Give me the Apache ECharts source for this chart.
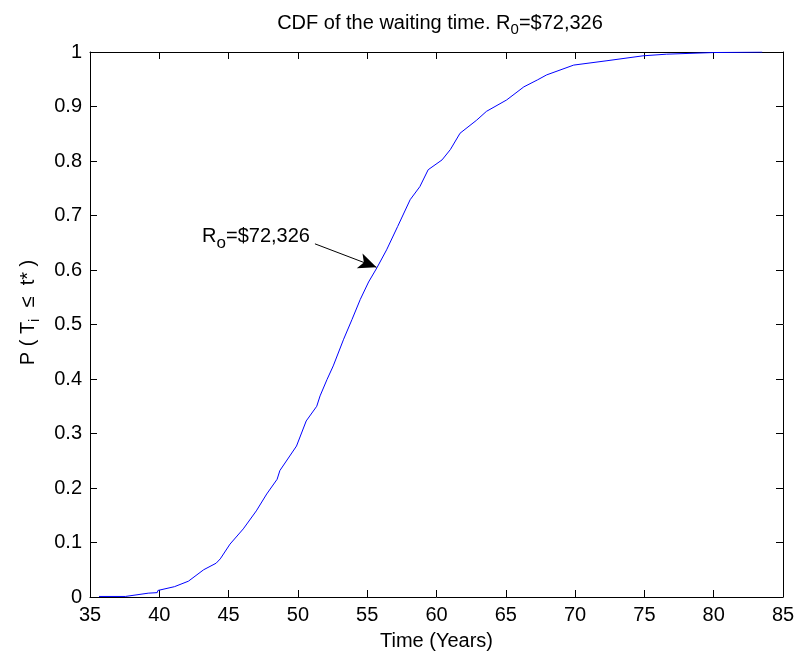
<!DOCTYPE html>
<html>
<head>
<meta charset="utf-8">
<script src="https://cdn.jsdelivr.net/npm/echarts@6/dist/echarts.min.js"></script>
<style>html,body{margin:0;padding:0;background:#fff}#c{width:798px;height:656px}</style>
</head>
<body>
<div id="c"></div>
<script>
// Time (years)
var times = [35.65, 37.55, 37.6, 39.2, 39.85, 39.9, 41.1, 42.1, 43.2, 44.1, 44.4, 45.1, 46.06, 47.0, 47.75, 48.5, 48.7, 49.9, 50.6, 51.36, 51.6, 52.1, 52.55, 53.3, 53.9, 54.5, 55.1, 55.7, 56.4, 57.2, 58.1, 58.8, 59.4, 60.4, 61.0, 61.7, 62.9, 63.6, 65.06, 66.3, 67.3, 67.95, 69.9, 72.3, 74.9, 76.6, 80.0, 83.5];
// CDF values
var cdf = [0.001, 0.001, 0.004, 0.007, 0.008, 0.012, 0.019, 0.029, 0.05, 0.062, 0.07, 0.097, 0.125, 0.158, 0.189, 0.216, 0.232, 0.277, 0.323, 0.350, 0.369, 0.399, 0.424, 0.473, 0.509, 0.546, 0.578, 0.604, 0.637, 0.680, 0.729, 0.753, 0.784, 0.802, 0.821, 0.851, 0.875, 0.891, 0.912, 0.936, 0.949, 0.958, 0.976, 0.984, 0.993, 0.996, 0.999, 1.0];
var xTicks = [35, 40, 45, 50, 55, 60, 65, 70, 75, 80, 85];
var yTicks = [0, 0.1, 0.2, 0.3, 0.4, 0.5, 0.6, 0.7, 0.8, 0.9, 1];
// annotation: arrow from label to curve point
var arrowFrom = [51.23, 0.648];
var arrowTo = [55.67, 0.605];
var labelAt = [46.98, 0.662];

var data = times.map(function (t, i) { return [t, cdf[i]]; });
var FONT = 'Liberation Sans, Arial, Helvetica, sans-serif';
var tickStyle = { show: true, inside: true, length: 7, lineStyle: { color: '#000', width: 1 } };
var lineStyle = { color: '#000', width: 1 };
function richSet(big, small, drop) {
  return {
    a: { fontFamily: FONT, fontSize: big, fontWeight: 'normal', color: '#000', lineHeight: big, verticalAlign: 'top' },
    s: { fontFamily: FONT, fontSize: small, fontWeight: 'normal', color: '#000', lineHeight: small, padding: [drop, 0, 0, 0], verticalAlign: 'top' },
    p: { width: 24, lineHeight: big, verticalAlign: 'top' }
  };
}

var chart = echarts.init(document.getElementById('c'), null, { renderer: 'canvas' });
chart.setOption({
  animation: false,
  backgroundColor: '#fff',
  title: {
    text: '{a|CDF of the waiting time. R}{s|0}{a|=$72,326}',
    left: 435, top: 8, textAlign: 'center',
    textStyle: { fontWeight: 'normal', rich: richSet(20, 15, 9) }
  },
  grid: { left: 90, right: 15, top: 52, bottom: 58 },
  xAxis: [{
    type: 'value', min: 35, max: 85, interval: 5, position: 'bottom',
    axisLine: { show: true, onZero: false, lineStyle: lineStyle },
    axisTick: tickStyle, splitLine: { show: false },
    axisLabel: { color: '#000', fontFamily: FONT, fontSize: 20, margin: 8,
      formatter: function (v) { return xTicks.indexOf(v) >= 0 ? String(v) : ''; } },
    name: 'Time (Years)', nameLocation: 'middle', nameGap: 34,
    nameTextStyle: { color: '#000', fontFamily: FONT, fontSize: 20 }
  }, {
    type: 'value', min: 35, max: 85, interval: 5, position: 'top',
    axisLine: { show: true, onZero: false, lineStyle: lineStyle },
    axisTick: tickStyle, axisLabel: { show: false }, splitLine: { show: false }
  }],
  yAxis: [{
    type: 'value', min: 0, max: 1, interval: 0.1, position: 'left',
    axisLine: { show: true, onZero: false, lineStyle: lineStyle },
    axisTick: tickStyle, splitLine: { show: false },
    axisLabel: { color: '#000', fontFamily: FONT, fontSize: 20, margin: 8,
      formatter: function (v) { var r = Math.round(v * 10) / 10; return yTicks.indexOf(r) >= 0 ? String(r) : ''; } },
    name: '{p|}{a|P ( T}{s|i}{a|  ≤  t* )}', nameLocation: 'middle', nameGap: 52, nameRotate: 90,
    nameTextStyle: { rich: richSet(20, 15, 9) }
  }, {
    type: 'value', min: 0, max: 1, interval: 0.1, position: 'right',
    axisLine: { show: true, onZero: false, lineStyle: lineStyle },
    axisTick: tickStyle, axisLabel: { show: false }, splitLine: { show: false }
  }],
  series: [{
    type: 'line', data: data, xAxisIndex: 0, yAxisIndex: 0,
    showSymbol: false, symbol: 'none', smooth: false,
    lineStyle: { color: '#0000ff', width: 1 },
    markLine: {
      silent: true, symbol: ['none', 'arrow'], symbolSize: [12, 18],
      lineStyle: { color: '#000', width: 1, type: 'solid' },
      label: { show: false },
      data: [[{ coord: arrowFrom }, { coord: arrowTo }]]
    },
    markPoint: {
      silent: true, symbol: 'circle', symbolSize: 0,
      data: [{ coord: labelAt, value: 0,
        label: { show: true, position: 'inside',
          formatter: '{a|R}{s|o}{a|=$72,326}',
          rich: richSet(20, 17, 9) } }]
    }
  }]
});
</script>
</body>
</html>
